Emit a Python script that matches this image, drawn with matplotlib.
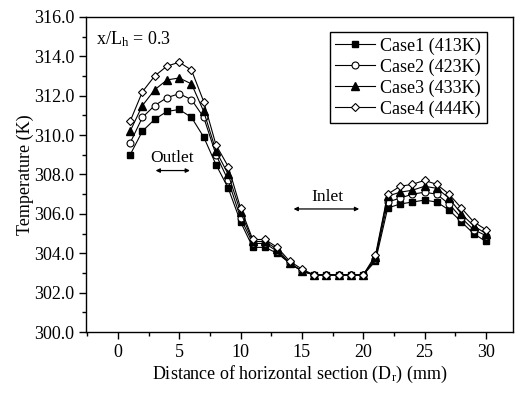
import matplotlib
matplotlib.use("Agg")
import matplotlib.pyplot as plt
from matplotlib.ticker import MultipleLocator, FormatStrFormatter

plt.rcParams['font.family'] = ['Liberation Serif', 'DejaVu Serif']
plt.rcParams['mathtext.fontset'] = 'custom'
plt.rcParams['mathtext.rm'] = 'Liberation Serif'
plt.rcParams['mathtext.it'] = 'Liberation Serif'

x = list(range(1, 31))
case1 = [309.0, 310.2, 310.8, 311.2, 311.3, 310.9, 309.9, 308.5, 307.3, 305.6,
         304.3, 304.3, 304.0, 303.5, 303.1, 302.9, 302.9, 302.9, 302.9, 302.9,
         303.6, 306.3, 306.5, 306.6, 306.7, 306.6, 306.2, 305.6, 305.0, 304.6]
case2 = [309.6, 310.9, 311.5, 311.9, 312.1, 311.8, 310.9, 309.0, 307.7, 305.8,
         304.5, 304.5, 304.1, 303.5, 303.1, 302.9, 302.9, 302.9, 302.9, 302.9,
         303.7, 306.6, 306.8, 307.0, 307.1, 307.0, 306.5, 305.8, 305.2, 304.9]
case3 = [310.2, 311.5, 312.3, 312.8, 312.9, 312.6, 311.2, 309.2, 308.0, 306.1,
         304.6, 304.6, 304.2, 303.5, 303.1, 302.9, 302.9, 302.9, 302.9, 302.9,
         303.8, 306.9, 307.1, 307.2, 307.4, 307.3, 306.8, 306.0, 305.4, 305.0]
case4 = [310.7, 312.2, 313.0, 313.5, 313.7, 313.3, 311.7, 309.5, 308.4, 306.3,
         304.7, 304.7, 304.3, 303.6, 303.2, 302.9, 302.9, 302.9, 302.9, 302.9,
         303.9, 307.0, 307.4, 307.5, 307.7, 307.5, 307.0, 306.3, 305.6, 305.2]
labels = ["Case1 (413K)", "Case2 (423K)", "Case3 (433K)", "Case4 (444K)"]

fig = plt.figure(figsize=(5.18, 3.93), dpi=100)
ax = fig.add_axes([0.166, 0.155, 0.824, 0.802])

ax.plot(x, case1, '-', color='black', lw=0.8, marker='s', ms=4.5, mfc='black', mec='black', label=labels[0])
ax.plot(x, case2, '-', color='black', lw=0.8, marker='o', ms=5, mfc='white', mec='black', mew=0.8, label=labels[1])
ax.plot(x, case3, '-', color='black', lw=0.8, marker='^', ms=5.5, mfc='black', mec='black', label=labels[2])
ax.plot(x, case4, '-', color='black', lw=0.8, marker='D', ms=4.5, mfc='white', mec='black', mew=0.8, label=labels[3])

ax.set_xlim(-2.6, 32.2)
ax.set_ylim(300.0, 316.0)
ax.xaxis.set_major_locator(MultipleLocator(5))
ax.xaxis.set_minor_locator(MultipleLocator(2.5))
ax.yaxis.set_major_locator(MultipleLocator(2))
ax.yaxis.set_minor_locator(MultipleLocator(1))
ax.yaxis.set_major_formatter(FormatStrFormatter('%.1f'))
ax.tick_params(which='both', direction='out', labelsize=13, top=False, right=False)
ax.tick_params(which='major', length=5, width=1)
ax.tick_params(which='minor', length=3, width=1)
for s in ax.spines.values():
    s.set_linewidth(1.0)

ax.set_xlabel(r'Distance of horizontal section (D$_\mathregular{r}$) (mm)', fontsize=13, labelpad=2)
ax.set_ylabel('Temperature (K)', fontsize=13, labelpad=0)

ax.text(-1.8, 314.85, r'x/L$_\mathregular{h}$ = 0.3', fontsize=13, va='center', ha='left')
ax.text(4.4, 308.85, 'Outlet', fontsize=12.5, ha='center', va='center')
ax.annotate('', xy=(2.85, 308.2), xytext=(6.1, 308.2),
            arrowprops=dict(arrowstyle='<|-|>', color='black', lw=0.9, mutation_scale=6))
ax.text(17.1, 306.85, 'Inlet', fontsize=12.5, ha='center', va='center')
ax.annotate('', xy=(14.1, 306.25), xytext=(19.9, 306.25),
            arrowprops=dict(arrowstyle='<|-|>', color='black', lw=0.9, mutation_scale=6))

leg = ax.legend(loc='upper right', bbox_to_anchor=(0.939, 0.952), borderaxespad=0,
                fontsize=13, frameon=True, fancybox=False, edgecolor='black', framealpha=1,
                handlelength=2.2, handletextpad=0.3, labelspacing=0.2, borderpad=0.3)
leg.get_frame().set_linewidth(1.0)

fig.savefig('out.png', dpi=100)
